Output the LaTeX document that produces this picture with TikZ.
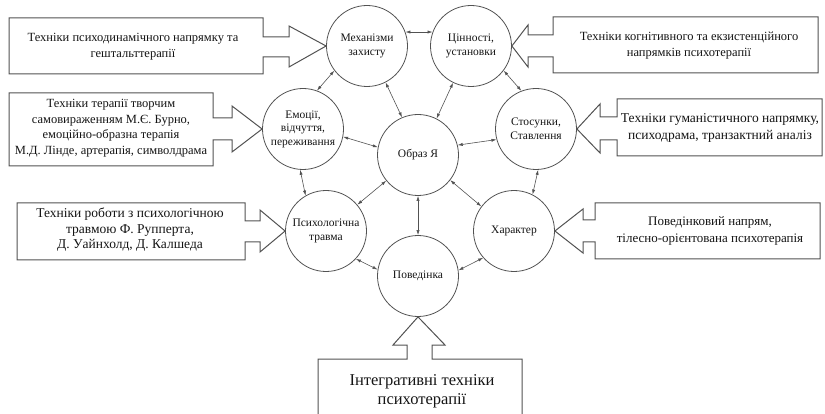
\documentclass[tikz,border=0pt]{standalone}
\usepackage{fontspec}
\setmainfont{Liberation Serif}
\usetikzlibrary{arrows.meta}
\definecolor{lc}{gray}{0.32}
\definecolor{tc}{gray}{0.08}
\tikzset{
  circ/.style={circle, draw=lc, line width=0.8pt, minimum size=81pt, inner sep=0pt, align=center, text=tc, font=\fontsize{11.5}{13.5}\selectfont},
  blk/.style={draw=lc, line width=1pt, line join=miter},
  lnk/.style={draw=lc, line width=0.6pt, {Latex[length=5pt,width=3.2pt]}-{Latex[length=5pt,width=3.2pt]}},
  btxt/.style={align=center, text=tc, inner sep=0pt, font=\fontsize{12.5}{16}\selectfont},
}
\begin{document}
\begin{tikzpicture}[x=1pt,y=-1pt]
\useasboundingbox (0,0) rectangle (825,414);
% circles
\node[circ] (mech) at (367,46) {Механізми\\захисту};
\node[circ] (val) at (471,46) {Цінності,\\установки};
\node[circ] (emo) at (303,129) {Емоції,\\відчуття,\\переживання};
\node[circ] (self) at (418,155) {Образ Я};
\node[circ] (rel) at (536,129) {Стосунки,\\Ставлення};
\node[circ] (trauma) at (326,231) {Психологічна\\травма};
\node[circ] (char) at (514,231) {Характер};
\node[circ] (beh) at (418,276) {Поведінка};
% links
\draw[lnk] (mech.20) -- (val.160);
\draw[lnk] (mech.-63) -- (self.113);
\draw[lnk] (val.-116) -- (self.63);
\draw[lnk] (emo.-11) -- (self.169);
\draw[lnk] (rel.-165) -- (self.14);
\draw[lnk] (mech.-143) -- (emo.70);
\draw[lnk] (val.-37) -- (rel.111);
\draw[lnk] (emo.-94) -- (trauma.120);
\draw[lnk] (trauma.40) -- (self.-141);
\draw[lnk] (self) -- (beh);
\draw[lnk] (self.-38) -- (char.143);
\draw[lnk] (trauma.-43) -- (beh.171);
\draw[lnk] (char.-139) -- (beh.8);
\draw[lnk] (rel.-87) -- (char.63);
% block arrows
\draw[blk] (9,18) -- (263,18) -- (263,37) -- (289,37) -- (289,26) -- (mech.west) -- (289,67) -- (289,57) -- (263,57) -- (263,74) -- (9,74) -- cycle;
\draw[blk] (9,93) -- (213,93) -- (213,118) -- (232,118) -- (232,106) -- (emo.west) -- (232,152) -- (232,140) -- (213,140) -- (213,166) -- (9,166) -- cycle;
\draw[blk] (17,203) -- (245,203) -- (245,221) -- (260,221) -- (260,210) -- (trauma.west) -- (260,252) -- (260,242) -- (245,242) -- (245,260) -- (17,260) -- cycle;
\draw[blk] (818,17) -- (553,17) -- (553,35) -- (528,35) -- (528,25) -- (val.east) -- (528,67) -- (528,57) -- (553,57) -- (553,73) -- (818,73) -- cycle;
\draw[blk] (822,99) -- (617,99) -- (617,117) -- (600,117) -- (600,104) -- (rel.east) -- (600,153) -- (600,140) -- (617,140) -- (617,156) -- (822,156) -- cycle;
\draw[blk] (820,203) -- (595,203) -- (595,220) -- (583,220) -- (583,209) -- (char.east) -- (583,253) -- (583,242) -- (595,242) -- (595,259) -- (820,259) -- cycle;
\draw[blk] (318,414) -- (318,359) -- (407,359) -- (407,345) -- (393,345) -- (beh.south) -- (445,345) -- (432,345) -- (432,359) -- (522,359) -- (522,414);
% box texts
\node[btxt] (tA) at (133,47) {Техніки психодинамічного напрямку та\\гештальттерапії};
\node[btxt, font=\fontsize{12.5}{15.5}\selectfont] (tB) at (111,128) {Техніки терапії творчим\\самовираженням М.Є. Бурно,\\емоційно-образна терапія\\М.Д. Лінде, артерапія, символдрама};
\node[btxt, font=\fontsize{13.5}{15.5}\selectfont] (tC) at (130,230) {Техніки роботи з психологічною\\травмою Ф. Рупперта,\\Д. Уайнхолд, Д. Калшеда};
\node[btxt] (tD) at (689,46) {Техніки когнітивного та екзистенційного\\напрямків психотерапії};
\node[btxt, font=\fontsize{13.5}{17}\selectfont] (tE) at (720,128) {Техніки гуманістичного напрямку,\\психодрама, транзактний аналіз};
\node[btxt, font=\fontsize{13}{17}\selectfont] (tF) at (710,231) {Поведінковий напрям,\\тілесно-орієнтована психотерапія};
\node[btxt, font=\fontsize{16.5}{19}\selectfont] (tG) at (422,391) {Інтегративні техніки\\психотерапії};
\end{tikzpicture}
\end{document}
